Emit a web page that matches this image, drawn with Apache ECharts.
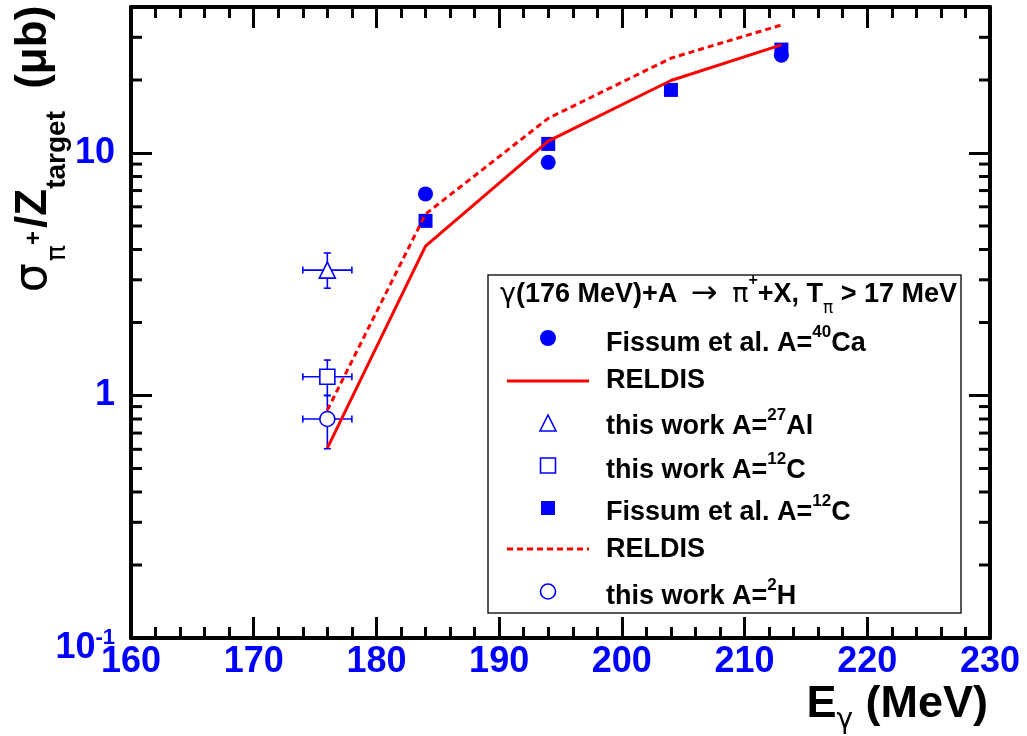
<!DOCTYPE html>
<html><head><meta charset="utf-8">
<script src="https://cdn.jsdelivr.net/npm/echarts@6/dist/echarts.min.js"></script>
<style>html,body{margin:0;padding:0;background:#fff}#c{width:1027px;height:736px}</style>
</head><body><div id="c"></div>
<script>
const FONT = '"Liberation Sans", Arial, Helvetica, sans-serif';
const GREEK = '"DejaVu Sans", "Liberation Sans", sans-serif';
const BLUE = '#0000ff', RED = '#ff0000';

// axis ticks
const xRange = [160, 230];
const yRange = [0.1, 40];
const yMinorTicks = [0.2,0.3,0.4,0.5,0.6,0.7,0.8,0.9,2,3,4,5,6,7,8,9,20,30];

// Fissum et al. data
const fissumCaE = [184, 194, 213];
const fissumCaSigma = [6.78, 9.15, 25.3];
const fissumCE = [184, 194, 204, 213];
const fissumCSigma = [5.25, 10.9, 18.2, 26.7];

// RELDIS curves
const reldisE = [176, 184, 194, 204, 213];
const reldisSolid = [0.607, 4.13, 11.2, 19.9, 27.9];
const reldisDashed = [0.87, 5.6, 13.9, 24.6, 33.7];

// this work: [value, low, high] at E = 176 +- 2 MeV
const thisWorkE = 176;
const thisWorkEErr = 2;
const thisWorkAl = [3.29, 2.77, 3.87];
const thisWorkC = [1.195, 1.0, 1.40];
const thisWorkH = [0.80, 0.603, 1.0];

// legend labels
const legendHeader = '{g|γ}{h|(176 MeV)+A }{a|→}{g| π}{hs|+}{h|+X, T}{gs|π}{h| > 17 MeV}';
const legendLabels = [
  '{m|Fissum et al. A=}{u|40}{m|Ca}',
  '{m|RELDIS}',
  '{m|this work A=}{u|27}{m|Al}',
  '{m|this work A=}{u|12}{m|C}',
  '{m|Fissum et al. A=}{u|12}{m|C}',
  '{m|RELDIS}',
  '{m|this work A=}{u|2}{m|H}'
];
const legendRowY = [344, 381, 427, 471, 513, 550, 597];

const pairs = (xs, ys) => xs.map((x, i) => [x, ys[i]]);

const chart = echarts.init(document.getElementById('c'), null, {renderer: 'canvas'});

const labelStyle = {fontSize: 36, fontWeight: 'bold', color: BLUE, fontFamily: FONT};

function yLabel(v) {
  const l = Math.log10(v);
  const k = Math.round(l);
  if (Math.abs(l - k) > 1e-6) return '';
  if (k < 0) return '{b|10}{s|' + k + '}';
  return String(Math.pow(10, k));
}

function errorBarItem(params, api) {
  const x = api.value(0), y = api.value(1), lo = api.value(2), hi = api.value(3);
  const c = api.coord([x, y]);
  const pLo = api.coord([x, lo]);
  const pHi = api.coord([x, hi]);
  const pL = api.coord([x - thisWorkEErr, y]);
  const pR = api.coord([x + thisWorkEErr, y]);
  const cap = 3.5;
  const st = {stroke: BLUE, lineWidth: 1.6};
  return {type: 'group', children: [
    {type: 'line', shape: {x1: c[0], y1: pLo[1], x2: c[0], y2: pHi[1]}, style: st},
    {type: 'line', shape: {x1: pL[0], y1: c[1], x2: pR[0], y2: c[1]}, style: st},
    {type: 'line', shape: {x1: c[0] - cap, y1: pLo[1], x2: c[0] + cap, y2: pLo[1]}, style: st},
    {type: 'line', shape: {x1: c[0] - cap, y1: pHi[1], x2: c[0] + cap, y2: pHi[1]}, style: st},
    {type: 'line', shape: {x1: pL[0], y1: c[1] - cap, x2: pL[0], y2: c[1] + cap}, style: st},
    {type: 'line', shape: {x1: pR[0], y1: c[1] - cap, x2: pR[0], y2: c[1] + cap}, style: st}
  ]};
}

function minorTickItem(params, api) {
  const p = api.coord([xRange[0], api.value(1)]);
  const cs = params.coordSys;
  const st = {stroke: '#000', lineWidth: 3};
  return {type: 'group', children: [
    {type: 'line', shape: {x1: cs.x, y1: p[1], x2: cs.x + 11, y2: p[1]}, style: st},
    {type: 'line', shape: {x1: cs.x + cs.width - 11, y1: p[1], x2: cs.x + cs.width, y2: p[1]}, style: st}
  ]};
}

const axisLineStyle = {show: true, onZero: false, lineStyle: {color: '#000', width: 4}};
const tickStyle = {show: true, inside: true, length: 21, lineStyle: {color: '#000', width: 3}};

function xAxisDef(pos, showLabel) {
  return {
    type: 'value', position: pos, min: xRange[0], max: xRange[1], interval: 10,
    axisLine: axisLineStyle,
    axisTick: tickStyle,
    minorTick: {show: true, splitNumber: 5, length: 11, lineStyle: {color: '#000', width: 3}},
    splitLine: {show: false}, minorSplitLine: {show: false},
    axisLabel: Object.assign({show: showLabel, margin: 6, interval: 0}, labelStyle)
  };
}
function yAxisDef(pos, showLabel) {
  return {
    type: 'log', logBase: 10, position: pos, min: yRange[0], max: yRange[1],
    axisLine: axisLineStyle,
    axisTick: tickStyle,
    splitLine: {show: false},
    axisLabel: Object.assign({
      show: showLabel, margin: 16, formatter: yLabel,
      rich: {
        b: {fontSize: 36, fontWeight: 'bold', color: BLUE, fontFamily: FONT, lineHeight: 56, verticalAlign: 'bottom'},
        s: {fontSize: 22, fontWeight: 'bold', color: BLUE, fontFamily: FONT, lineHeight: 22, verticalAlign: 'middle'}
      }
    }, labelStyle)
  };
}

const hollow = {color: '#fff', borderColor: BLUE, borderWidth: 1.6, opacity: 1};
const filled = {color: BLUE, opacity: 1};

// rich styles for graphic texts
function tok(size, weight, family, lh, va, fill) {
  return {fontSize: size, fontWeight: weight, fontFamily: family, lineHeight: lh, verticalAlign: va, fill: fill || '#000'};
}
const legendRich = {
  m: tok(27, 'bold', FONT, 40, 'middle'),
  u: tok(17, 'bold', FONT, 16, 'top')
};
const headerRich = {
  h: tok(27, 'bold', FONT, 44, 'middle'),
  g: tok(27, 'normal', GREEK, 44, 'middle'),
  a: Object.assign(tok(32, 'normal', GREEK, 44, 'middle'), {padding: [0, 6, 0, 6]}),
  hs: tok(16, 'bold', FONT, 16, 'top'),
  gs: tok(17, 'normal', GREEK, 16, 'bottom')
};
const yTitleRich = {
  s: Object.assign(tok(46, 'normal', GREEK, 74, 'middle'), {padding: [0, 2, 0, 0]}),
  p: tok(27, 'normal', GREEK, 27, 'bottom'),
  u: Object.assign(tok(24, 'bold', FONT, 24, 'middle'), {padding: [0, 3, 0, 0]}),
  m: tok(44, 'bold', FONT, 74, 'middle'),
  t: tok(28, 'bold', FONT, 28, 'bottom'),
  sp: {fontSize: 44, fontWeight: 'bold', fontFamily: FONT, lineHeight: 74, verticalAlign: 'middle', fill: '#000', padding: [0, 10, 0, 0]}
};
const xTitleRich = {
  m: tok(45, 'bold', FONT, 60, 'middle'),
  g: tok(28, 'normal', GREEK, 28, 'bottom')
};

const LX = 548; // legend marker centre x
const graphics = [
  {type: 'rect', z: 10, shape: {x: 488, y: 275, width: 473, height: 338},
   style: {fill: '#fff', stroke: '#222', lineWidth: 1.5}},
  {type: 'text', z: 11, x: 500, y: 295,
   style: {text: legendHeader, rich: headerRich, align: 'left', verticalAlign: 'middle', fill: '#000'}},
  {type: 'circle', z: 11, shape: {cx: LX, cy: 338, r: 8}, style: {fill: BLUE}},
  {type: 'line', z: 11, shape: {x1: 507, y1: 381, x2: 589, y2: 381}, style: {stroke: RED, lineWidth: 3}},
  {type: 'polygon', z: 11, shape: {points: [[LX, 415], [LX - 8, 431], [LX + 8, 431]]},
   style: {fill: '#fff', stroke: BLUE, lineWidth: 1.6}},
  {type: 'rect', z: 11, shape: {x: LX - 7.5, y: 458, width: 15, height: 15},
   style: {fill: '#fff', stroke: BLUE, lineWidth: 1.6}},
  {type: 'rect', z: 11, shape: {x: LX - 7, y: 501, width: 14, height: 14}, style: {fill: BLUE}},
  {type: 'line', z: 11, shape: {x1: 507, y1: 549, x2: 589, y2: 549},
   style: {stroke: RED, lineWidth: 3, lineDash: [6, 4]}},
  {type: 'circle', z: 11, shape: {cx: LX, cy: 591.5, r: 7.5},
   style: {fill: '#fff', stroke: BLUE, lineWidth: 1.6}},
  // axis titles
  {type: 'text', z: 11, x: 34, y: 149, rotation: Math.PI / 2,
   style: {text: '{s|σ}{p|π}{u|+}{m|/Z}{t|target}{sp| }{m|(μb)}', rich: yTitleRich,
           align: 'center', verticalAlign: 'middle', fill: '#000'}},
  {type: 'text', z: 11, x: 988, y: 705,
   style: {text: '{m|E}{g|γ}{m| (MeV)}', rich: xTitleRich, align: 'right', verticalAlign: 'middle', fill: '#000'}}
];
legendLabels.forEach((t, i) => {
  graphics.push({type: 'text', z: 11, x: 606, y: legendRowY[i],
    style: {text: t, rich: legendRich, align: 'left', verticalAlign: 'middle', fill: '#000'}});
});

chart.setOption({
  animation: false,
  backgroundColor: '#fff',
  grid: {left: 131, right: 37, top: 7, bottom: 98, containLabel: false},
  xAxis: [xAxisDef('bottom', true), xAxisDef('top', false)],
  yAxis: [yAxisDef('left', true), yAxisDef('right', false)],
  series: [
    {name: 'minor ticks', type: 'custom', silent: true, z: 1, renderItem: minorTickItem,
     encode: {x: 0, y: 1}, data: yMinorTicks.map(v => [xRange[0], v])},
    {name: 'Fissum et al. A=40Ca', type: 'scatter', symbol: 'circle', symbolSize: 15, z: 3,
     itemStyle: filled, data: pairs(fissumCaE, fissumCaSigma)},
    {name: 'Fissum et al. A=12C', type: 'scatter', symbol: 'rect', symbolSize: 14, z: 3,
     itemStyle: filled, data: pairs(fissumCE, fissumCSigma)},
    {name: 'this work errors', type: 'custom', z: 3, renderItem: errorBarItem, encode: {x: 0, y: 1},
     data: [thisWorkAl, thisWorkC, thisWorkH].map(d => [thisWorkE, d[0], d[1], d[2]])},
    {name: 'this work A=27Al', type: 'scatter', symbol: 'triangle', symbolSize: 16, z: 4,
     itemStyle: hollow, data: [[thisWorkE, thisWorkAl[0]]]},
    {name: 'this work A=12C', type: 'scatter', symbol: 'rect', symbolSize: 15, z: 4,
     itemStyle: hollow, data: [[thisWorkE, thisWorkC[0]]]},
    {name: 'this work A=2H', type: 'scatter', symbol: 'circle', symbolSize: 15, z: 4,
     itemStyle: hollow, data: [[thisWorkE, thisWorkH[0]]]},
    {name: 'RELDIS solid', type: 'line', symbol: 'none', z: 5,
     lineStyle: {color: RED, width: 3}, data: pairs(reldisE, reldisSolid)},
    {name: 'RELDIS dashed', type: 'line', symbol: 'none', z: 5,
     lineStyle: {color: RED, width: 3, type: [6, 4]}, data: pairs(reldisE, reldisDashed)}
  ],
  graphic: graphics
});
</script>
</body></html>
